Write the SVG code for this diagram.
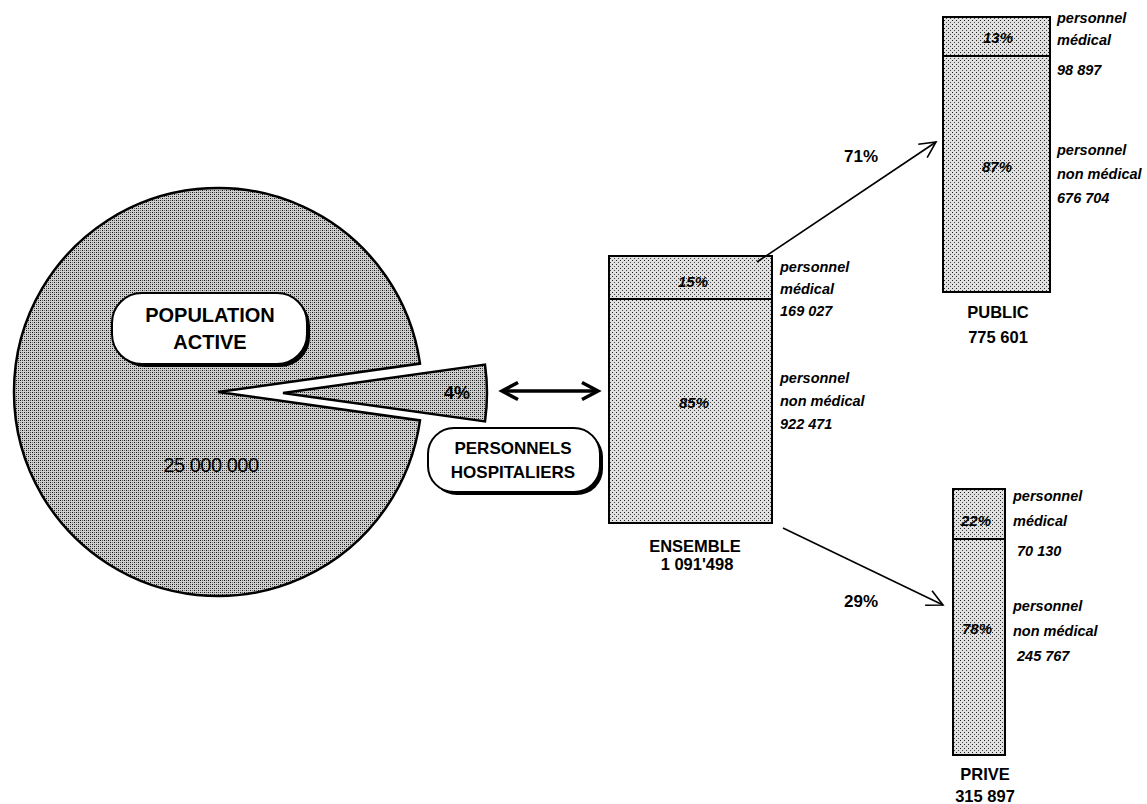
<svg xmlns="http://www.w3.org/2000/svg" width="1147" height="804" viewBox="0 0 1147 804">
  <style>
    .b{font-family:"Liberation Sans",Arial,sans-serif;font-weight:bold;fill:#000}
    .bi{font-family:"Liberation Sans",Arial,sans-serif;font-weight:bold;font-style:italic;fill:#000;font-size:14.5px}
    .pc{font-family:"Liberation Sans",Arial,sans-serif;font-weight:bold;font-style:italic;fill:#000;font-size:15px}
    .r{font-family:"Liberation Sans",Arial,sans-serif;fill:#000}
    .edge{fill:none;stroke:#000}
    .bar{fill:url(#light);stroke:#000;stroke-width:2}
    .box{fill:#fff;stroke:#000;stroke-width:2}
    .shadow{fill:#000}
  </style>
  <defs>
    <pattern id="dense" width="4" height="4" patternUnits="userSpaceOnUse">
      <rect width="4" height="4" fill="#cfcfcf"/>
      <rect x="0" y="0" width="1" height="1" fill="#111"/>
      <rect x="2" y="2" width="1" height="1" fill="#111"/>
      <rect x="2" y="0" width="1" height="1" fill="#555"/>
      <rect x="0" y="2" width="1" height="1" fill="#777"/>
    </pattern>
    <pattern id="light" width="4" height="4" patternUnits="userSpaceOnUse">
      <rect width="4" height="4" fill="#e0e0e0"/>
      <rect x="0" y="0" width="1" height="1" fill="#222"/>
      <rect x="2" y="2" width="1" height="1" fill="#444"/>
    </pattern>
    <marker id="open" markerUnits="userSpaceOnUse" markerWidth="20" markerHeight="20" refX="16" refY="8" orient="auto" overflow="visible">
      <path d="M0,0 L16,8 L0,16" fill="none" stroke="#000" stroke-width="1.6"/>
    </marker>
    <marker id="thick" markerUnits="userSpaceOnUse" markerWidth="22" markerHeight="22" refX="16" refY="8.5" orient="auto-start-reverse" overflow="visible">
      <path d="M0,0 L16,8.5 L0,17" fill="none" stroke="#000" stroke-width="3.5"/>
    </marker>
  </defs>

  <g id="pie">
    <path d="M218,392 L420,363.6 A204,204 0 1,0 420,420.4 Z" fill="url(#dense)" stroke="#000" stroke-width="2.5"/>
  </g>
  <g id="slice">
    <path d="M283,393 L485,364.6 A204,204 0 0,1 485,421.4 Z" fill="url(#dense)" stroke="#000" stroke-width="2.5"/>
    <text class="b" x="457" y="399" font-size="18" text-anchor="middle">4%</text>
  </g>
  <g id="population-active">
    <rect class="shadow" x="115" y="296" width="195" height="71" rx="30"/>
    <rect class="box" x="112" y="293" width="195" height="71" rx="30"/>
    <text class="b" x="210" y="322" font-size="20" text-anchor="middle">POPULATION</text>
    <text class="b" x="210" y="349" font-size="20" text-anchor="middle">ACTIVE</text>
  </g>
  <g id="total">
    <text class="r" x="211" y="472" font-size="20" text-anchor="middle" letter-spacing="-0.5">25 000 000</text>
  </g>
  <g id="personnels-hospitaliers">
    <rect class="shadow" x="431" y="431" width="172" height="64" rx="26"/>
    <rect class="box" x="428" y="428" width="172" height="64" rx="26"/>
    <text class="b" x="513" y="454" font-size="17" text-anchor="middle">PERSONNELS</text>
    <text class="b" x="513" y="478" font-size="17" text-anchor="middle">HOSPITALIERS</text>
  </g>

  <g id="ensemble">
    <rect class="bar" x="609" y="256" width="163" height="267"/>
    <line x1="609" y1="299" x2="772" y2="299" stroke="#000" stroke-width="2"/>
    <text class="pc" x="693" y="287" text-anchor="middle">15%</text>
    <text class="pc" x="694" y="408" text-anchor="middle">85%</text>
    <text class="bi" x="780" y="272">personnel</text>
    <text class="bi" x="780" y="294">médical</text>
    <text class="bi" x="780" y="316">169 027</text>
    <text class="bi" x="780" y="383">personnel</text>
    <text class="bi" x="780" y="406">non médical</text>
    <text class="bi" x="780" y="429">922 471</text>
    <text class="b" x="695" y="552" font-size="16.5" text-anchor="middle">ENSEMBLE</text>
    <text class="b" x="697" y="570" font-size="16.5" text-anchor="middle">1 091'498</text>
  </g>

  <g id="public">
    <rect class="bar" x="943" y="17" width="107" height="275"/>
    <line x1="943" y1="56" x2="1050" y2="56" stroke="#000" stroke-width="2"/>
    <text class="pc" x="998" y="43" text-anchor="middle">13%</text>
    <text class="pc" x="997" y="172" text-anchor="middle">87%</text>
    <text class="bi" x="1057" y="23">personnel</text>
    <text class="bi" x="1057" y="45">médical</text>
    <text class="bi" x="1057" y="75">98 897</text>
    <text class="bi" x="1057" y="155">personnel</text>
    <text class="bi" x="1057" y="179">non médical</text>
    <text class="bi" x="1057" y="203">676 704</text>
    <text class="b" x="998" y="318" font-size="16.5" text-anchor="middle">PUBLIC</text>
    <text class="b" x="998" y="343" font-size="16.5" text-anchor="middle">775 601</text>
  </g>

  <g id="prive">
    <rect class="bar" x="953" y="489" width="52" height="266"/>
    <line x1="953" y1="539" x2="1005" y2="539" stroke="#000" stroke-width="2"/>
    <text class="pc" x="976" y="526" text-anchor="middle">22%</text>
    <text class="pc" x="977" y="634" text-anchor="middle">78%</text>
    <text class="bi" x="1013" y="501">personnel</text>
    <text class="bi" x="1013" y="526">médical</text>
    <text class="bi" x="1017" y="556">70 130</text>
    <text class="bi" x="1013" y="611">personnel</text>
    <text class="bi" x="1013" y="636">non médical</text>
    <text class="bi" x="1017" y="661">245 767</text>
    <text class="b" x="985" y="780" font-size="16.5" text-anchor="middle">PRIVE</text>
    <text class="b" x="985" y="802" font-size="16.5" text-anchor="middle">315 897</text>
  </g>

  <g id="connectors">
    <line class="edge" x1="502" y1="391" x2="598" y2="391" stroke-width="3.5" marker-start="url(#thick)" marker-end="url(#thick)"/>
    <line class="edge" x1="757" y1="262" x2="936" y2="142" stroke-width="1.6" marker-end="url(#open)"/>
    <text class="b" x="861" y="162" font-size="17" text-anchor="middle">71%</text>
    <line class="edge" x1="783" y1="528" x2="943" y2="605" stroke-width="1.6" marker-end="url(#open)"/>
    <text class="b" x="861" y="607" font-size="17" text-anchor="middle">29%</text>
  </g>
</svg>
